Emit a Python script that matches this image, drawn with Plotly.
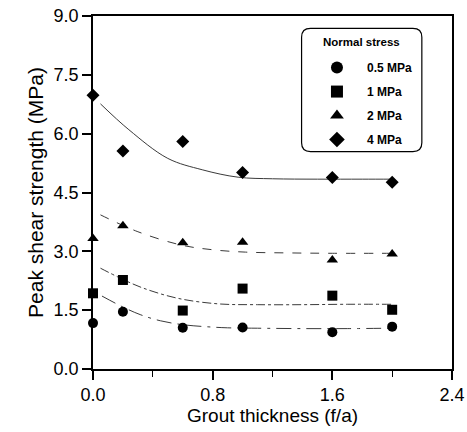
import plotly.graph_objects as go

# ---- data ----
thickness = [0.0, 0.2, 0.6, 1.0, 1.6, 2.0]
s_05 = [1.17, 1.46, 1.05, 1.06, 0.94, 1.08]
s_1 = [1.93, 2.27, 1.49, 2.05, 1.87, 1.51]
s_2 = [3.33, 3.65, 3.22, 3.23, 2.78, 2.93]
s_4 = [6.98, 5.56, 5.80, 5.01, 4.88, 4.76]

# fitted curves
fit_x_05 = [0.06, 0.2, 0.32, 0.45, 0.6, 0.75, 0.9, 1.1, 1.4, 1.7, 2.0]
fit_y_05 = [1.86, 1.58, 1.38, 1.23, 1.13, 1.08, 1.05, 1.04, 1.03, 1.03, 1.04]
fit_x_1 = [0.05, 0.17, 0.33, 0.57, 0.84, 1.1, 1.4, 1.7, 2.0]
fit_y_1 = [2.57, 2.34, 2.07, 1.80, 1.66, 1.64, 1.64, 1.65, 1.65]
fit_x_2 = [0.05, 0.3, 0.59, 0.8, 1.02, 1.3, 1.6, 2.0]
fit_y_2 = [3.93, 3.50, 3.16, 3.04, 2.98, 2.96, 2.95, 2.95]
fit_x_4 = [0.05, 0.24, 0.5, 0.73, 0.97, 1.2, 1.5, 1.8, 2.0]
fit_y_4 = [6.76, 6.10, 5.37, 5.08, 4.89, 4.85, 4.84, 4.84, 4.84]

labels = ["0.5 MPa", "1 MPa", "2 MPa", "4 MPa"]
legend_title = "Normal stress"
symbols = ["circle", "square", "triangle-up", "diamond"]
dashes = ["longdashdot", "dashdot", "dash", "solid"]

series = [s_05, s_1, s_2, s_4]
fits = [(fit_x_05, fit_y_05), (fit_x_1, fit_y_1), (fit_x_2, fit_y_2), (fit_x_4, fit_y_4)]

fig = go.Figure()
for i in range(4):
    fx, fy = fits[i]
    fig.add_trace(go.Scatter(x=fx, y=fy, mode="lines", showlegend=False,
                             line=dict(color="#3a3a3a", width=1, dash=dashes[i], shape="spline")))
for i in range(4):
    fig.add_trace(go.Scatter(x=thickness, y=series[i], mode="markers",
                             name="<b>" + labels[i] + "</b>",
                             legendgroup=labels[i], cliponaxis=False,
                             marker=dict(symbol=symbols[i], size=10, color="black")))

font_family = "Liberation Sans, Arial, sans-serif"
axis_common = dict(showline=True, linecolor="black", linewidth=1.5, mirror=True,
                   ticks="outside", ticklen=9, tickwidth=1.5, tickcolor="black",
                   showgrid=False, zeroline=False, automargin=False,
                   tickfont=dict(family=font_family, size=18, color="black"))

fig.update_xaxes(range=[0, 2.4], tickvals=[0, 0.8, 1.6, 2.4], ticktext=["0.0", "0.8", "1.6", "2.4"],
                 minor=dict(tickvals=[0.4, 1.2, 2.0], ticks="outside", ticklen=6, tickcolor="black", tickwidth=1),
                 title_text="Grout thickness (f/a)", title_standoff=2,
                 title_font=dict(family=font_family, size=19, color="black"), **axis_common)
fig.update_yaxes(range=[0, 9], tickvals=[0, 1.5, 3, 4.5, 6, 7.5, 9],
                 ticktext=["0.0", "1.5", "3.0", "4.5", "6.0", "7.5", "9.0"],
                 title_text="Peak shear strength (MPa)", title_standoff=4,
                 title_font=dict(family=font_family, size=21, color="black"), **axis_common)

# rounded legend frame
x0, x1, y0, y1 = 0.581, 0.916, 0.616, 0.965
rx, ry = 0.025, 0.025
path = (f"M {x0+rx},{y0} L {x1-rx},{y0} Q {x1},{y0} {x1},{y0+ry} L {x1},{y1-ry} "
        f"Q {x1},{y1} {x1-rx},{y1} L {x0+rx},{y1} Q {x0},{y1} {x0},{y1-ry} "
        f"L {x0},{y0+ry} Q {x0},{y0} {x0+rx},{y0} Z")
fig.add_shape(type="path", path=path, xref="paper", yref="paper",
              line=dict(color="black", width=1.2), fillcolor="rgba(0,0,0,0)")
fig.add_annotation(text="<b>" + legend_title + "</b>", xref="paper", yref="paper",
                   x=0.747, y=0.927, xanchor="center", yanchor="middle", showarrow=False,
                   font=dict(size=11.5, family=font_family, color="black"))

fig.update_layout(
    width=467, height=432,
    margin=dict(l=93, r=15, t=16, b=63),
    plot_bgcolor="white", paper_bgcolor="white",
    font=dict(family=font_family, color="black"),
    legend=dict(x=0.596, y=0.895, xanchor="left", yanchor="top",
                bgcolor="rgba(0,0,0,0)", borderwidth=0,
                font=dict(size=12, family=font_family),
                tracegroupgap=5, itemwidth=50, itemsizing="constant"),
)

fig.write_html("out.html")
